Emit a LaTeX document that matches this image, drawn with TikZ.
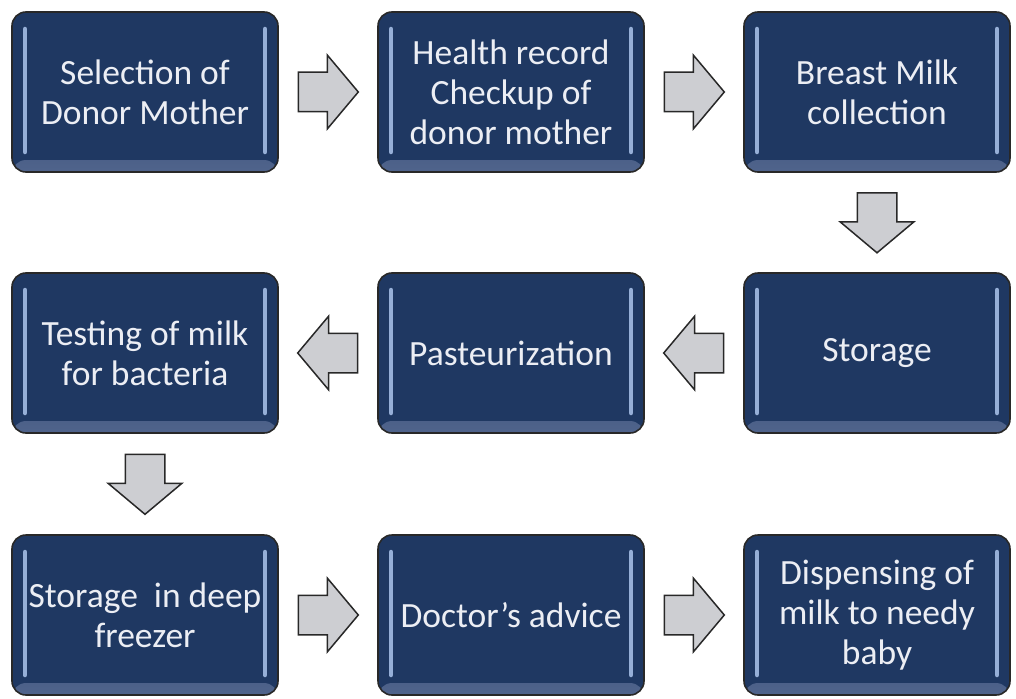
\documentclass[tikz,border=0pt]{standalone}
\usepackage{fontspec}
\setmainfont{Carlito}
\usetikzlibrary{shapes.arrows}

\definecolor{navy}{RGB}{31,56,98}
\definecolor{navyglow}{RGB}{80,100,140}
\definecolor{barblue}{RGB}{150,175,215}
\definecolor{boxtext}{RGB}{236,238,244}
\definecolor{arrowgray}{RGB}{205,206,210}
\definecolor{edge}{RGB}{40,40,40}

\tikzset{
  stepbox/.style={
    draw=edge, line width=1.6pt, rounded corners=14pt,
    fill=navy, text=boxtext, align=center,
    minimum width=266pt, minimum height=160pt, inner sep=2pt,
    font=\fontsize{35.5}{40}\selectfont,
    path picture={
      \shade[bottom color=navyglow, top color=navy]
        ([yshift=-1pt]path picture bounding box.south west) rectangle
        ([yshift=12pt]path picture bounding box.south east);
      \draw[barblue, line width=4.5pt, line cap=round]
        ([xshift=13pt,yshift=-17pt]path picture bounding box.north west) --
        ([xshift=13pt,yshift=20pt]path picture bounding box.south west);
      \draw[barblue, line width=4.5pt, line cap=round]
        ([xshift=-13pt,yshift=-17pt]path picture bounding box.north east) --
        ([xshift=-13pt,yshift=20pt]path picture bounding box.south east);
    }
  },
  flowarrow/.style={
    single arrow, draw=edge, line width=1.5pt, fill=arrowgray,
    minimum height=60pt, inner xsep=0pt, inner ysep=19pt,
    single arrow head extend=17pt, single arrow tip angle=100,
    anchor=center
  },
  toright/.style={flowarrow, rotate=0, xshift=-8pt},
  toleft/.style={flowarrow, rotate=180, xshift=-8pt},
  todown/.style={flowarrow, rotate=-90, xshift=-8pt}
}

\begin{document}
\begin{tikzpicture}[x=1pt,y=-1pt]
  \useasboundingbox (0,0) rectangle (1016,698);

  % first row
  \node[stepbox] (select)  at (145,92) {Selection of\\Donor Mother};
  \node[stepbox] (health)  at (511,92) {Health record\\Checkup of\\donor mother};
  \node[stepbox] (collect) at (877,92) {Breast Milk\\collection};

  % second row
  \node[stepbox] (testing) at (145,353) {Testing of milk\\for bacteria};
  \node[stepbox] (pasteur) at (511,353) {Pasteurization};
  \node[stepbox] (storage) at (877,353) {Storage};

  % third row
  \node[stepbox] (freezer) at (145,615) {Storage\ \ in deep\\freezer};
  \node[stepbox] (doctor)  at (511,615) {Doctor’s advice};
  \node[stepbox] (dispense) at (877,615) {Dispensing of\\milk to needy\\baby};

  % block arrows between the steps
  \path (select.east)  -- node[toright] (a1) {} (health.west);
  \path (health.east)  -- node[toright] (a2) {} (collect.west);
  \path (collect.south) -- node[todown] (a3) {} (storage.north);
  \path (storage.west) -- node[toleft] (a4) {} (pasteur.east);
  \path (pasteur.west) -- node[toleft] (a5) {} (testing.east);
  \path (testing.south) -- node[todown] (a6) {} (freezer.north);
  \path (freezer.east) -- node[toright] (a7) {} (doctor.west);
  \path (doctor.east)  -- node[toright] (a8) {} (dispense.west);
\end{tikzpicture}
\end{document}
